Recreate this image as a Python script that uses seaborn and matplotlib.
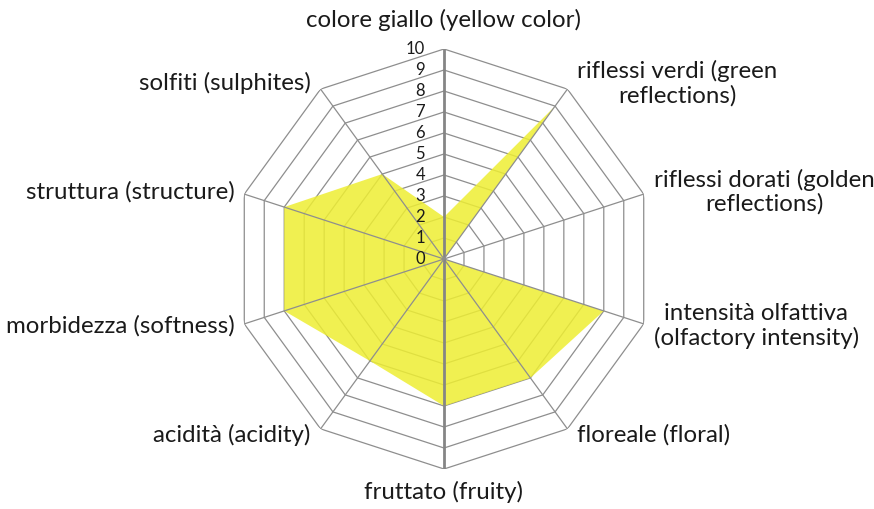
import numpy as np
import pandas as pd
import matplotlib
matplotlib.use("Agg")
import matplotlib.pyplot as plt
import seaborn as sns

categories = [
    "colore giallo (yellow color)",
    "riflessi verdi (green\nreflections)",
    "riflessi dorati (golden\nreflections)",
    "intensità olfattiva\n(olfactory intensity)",
    "floreale (floral)",
    "fruttato (fruity)",
    "acidità (acidity)",
    "morbidezza (softness)",
    "struttura (structure)",
    "solfiti (sulphites)",
]
values = [2, 9, 0, 8, 7, 7, 6, 8, 8, 5]
tick_values = list(range(0, 11))

sns.set_theme(style="white")
plt.rcParams["font.family"] = ["Lato", "DejaVu Sans"]

fig = plt.figure(figsize=(8.74, 5.09), dpi=100)
ax = fig.add_axes([234 / 874, 40 / 509, 420 / 874, 420 / 509], projection="polar")
ax.set_theta_zero_location("N")
ax.set_theta_direction(-1)
ax.set_ylim(0, 10)
ax.grid(False)
ax.spines["polar"].set_visible(False)
ax.set_xticks([])
ax.set_yticks([])
ax.patch.set_alpha(0)

n = len(categories)
angles = np.linspace(0, 2 * np.pi, n, endpoint=False)
closed_angles = np.append(angles, angles[0])

# decagonal rings
rings = pd.DataFrame(
    [(t, a, i) for t in tick_values[1:] for i, a in enumerate(closed_angles)],
    columns=["level", "theta", "idx"],
)
rings["r"] = rings["level"]
sns.lineplot(data=rings, x="theta", y="r", units="level", estimator=None,
             sort=False, color="#8e8e8e", lw=0.9, ax=ax, zorder=1, legend=False)
ax.set_xlabel("")
ax.set_ylabel("")

# data fill
closed_values = values + values[:1]
ax.fill(closed_angles, closed_values, color="#EEEE33", alpha=0.85, lw=0, zorder=2)

# spokes
for i, a in enumerate(angles):
    if i in (0, 5):
        ax.plot([a, a], [0, 10], color="#858585", lw=2.0, zorder=3, solid_capstyle="butt")
    else:
        ax.plot([a, a], [0, 10], color="#8e8e8e", lw=0.9, zorder=3)

# value tick labels
for t in tick_values:
    ax.annotate(str(t), xy=(0, t), xytext=(-19, 0), textcoords="offset pixels",
                ha="right", va="center", fontsize=12, color="#1a1a1a", zorder=4)

# category labels
for a, lab in zip(angles, categories):
    s, c = np.sin(a), np.cos(a)
    if abs(s) < 1e-6:
        off = (0, 29) if c > 0 else (0, -23)
        ha = "center"
    else:
        off = (10 * np.sign(s), 7 * c)
        ha = "left" if s > 0 else "right"
    ax.annotate(lab, xy=(a, 10), xytext=off, textcoords="offset pixels",
                ha=ha, va="center", multialignment="center",
                fontsize=17.3, color="#1a1a1a", linespacing=1.15, annotation_clip=False)

fig.savefig("out.png", dpi=100)
